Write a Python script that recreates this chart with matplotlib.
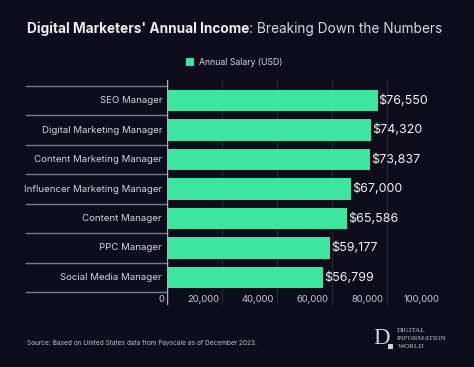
import matplotlib
matplotlib.use("Agg")
import matplotlib.pyplot as plt
from matplotlib.patches import Rectangle

categories = ["SEO Manager", "Digital Marketing Manager", "Content Marketing Manager",
              "Influencer Marketing Manager", "Content Manager", "PPC Manager",
              "Social Media Manager"]
salaries = [76550, 74320, 73837, 67000, 65586, 59177, 56799]
value_labels = ["$76,550", "$74,320", "$73,837", "$67,000", "$65,586", "$59,177", "$56,799"]
xticks = [0, 20000, 40000, 60000, 80000, 100000]
xtick_labels = ["0", "20,000", "40,000", "60,000", "80,000", "100,000"]
legend_label = "Annual Salary (USD)"

BG = "#0c0c1a"
BAR = "#3de6a0"
FONT = "Inter"

W, H = 474, 367
def fx(px): return px / W
def fy(py): return 1 - py / H

fig = plt.figure(figsize=(4.74, 3.67), dpi=100, facecolor=BG)
ax = fig.add_axes([fx(167), fy(305), 275 / W, 225 / H])
ax.set_facecolor(BG)

y = list(range(len(categories)))
ax.set_xlim(0, 100000)
ax.set_ylim(6.5 + 13 / 29.5, -0.5 - 6 / 29.5)

for v in xticks[1:]:
    ax.axvline(v, color="#262636", lw=0.8, zorder=0)
ax.axvline(0, color="#b0b0b8", lw=1.0, zorder=3)

ax.barh(y, salaries, height=0.73, color=BAR, zorder=2)

ytr = ax.get_yaxis_transform()
for i in range(len(categories) + 1):
    ax.plot([-141 / 275, 0], [i - 0.5, i - 0.5], transform=ytr, color="#7a7a86",
            lw=1.0, clip_on=False, zorder=1)

for i, (c, v, lab) in enumerate(zip(categories, salaries, value_labels)):
    ax.text(-5 / 275, i, c, transform=ytr, ha="right", va="center",
            fontsize=6.95, color="#d4d4dc", family=FONT)
    ax.text(v + 400, i, lab, ha="left", va="center", fontsize=9.0,
            color="#f2f2f6", family=FONT)

for v, lab in zip(xticks, xtick_labels):
    ax.text(v - 1100, 6.74, lab, ha="right", va="center", fontsize=6.8,
            color="#c8c8d0", family=FONT)

ax.set_xticks([])
ax.set_yticks([])
for s in ax.spines.values():
    s.set_visible(False)

# Title
fig.canvas.draw()
r = fig.canvas.get_renderer()
t1 = fig.text(fx(27), fy(29), "Digital Marketers' Annual Income", ha="left", va="center",
              fontsize=9.85, fontweight="bold", color="#ececf2", family=FONT)
bb = t1.get_window_extent(renderer=r)
fig.text(bb.x1 / (fig.dpi * 4.74), fy(29), ": Breaking Down the Numbers", ha="left",
         va="center", fontsize=9.85, color="#d8d8e0", family=FONT)

# Legend
fig.patches.append(Rectangle((fx(186), fy(66)), 8 / W, 8 / H, transform=fig.transFigure,
                             facecolor=BAR, edgecolor="none"))
fig.text(fx(199), fy(62.5), legend_label, ha="left", va="center", fontsize=6.3,
         color="#d4d4dc", family=FONT)

# Source
fig.text(fx(27), fy(343.5), "Source: Based on United States data from Payscale as of December 2023.",
         ha="left", va="center", fontsize=4.65, color="#c4c4cc", family=FONT)

# Logo
fig.text(fx(373), fy(343.5), "D", ha="left", va="baseline", fontsize=16.5,
         color="#d0d0d8", family="Liberation Serif")
fig.patches.append(Rectangle((fx(387.7), fy(348.7)), 5 / W, 4.7 / H, transform=fig.transFigure,
                             facecolor="#d0d0d8", edgecolor="none"))
for txt, yy, xx in [("DIGITAL", 330.7, 396.5), ("INFORMATION", 338.5, 396.5), ("WORLD", 346.2, 397.5)]:
    fig.text(fx(xx), fy(yy), txt, ha="left", va="center", fontsize=5.2,
             color="#c8c8d0", family="Liberation Serif")

fig.savefig("out.png", dpi=100, facecolor=BG)
